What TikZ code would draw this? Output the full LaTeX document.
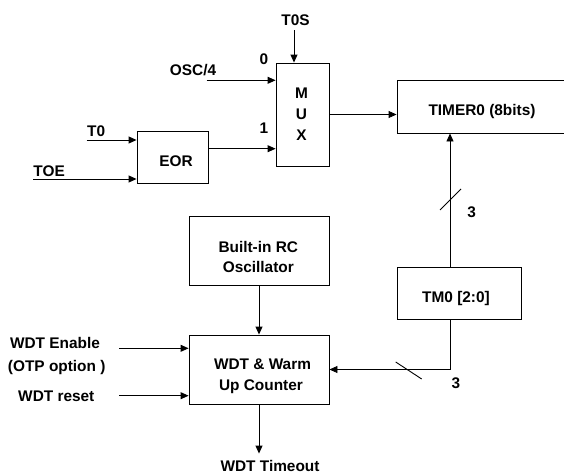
\documentclass[tikz,border=0pt]{standalone}
\usepackage{fontspec}
\setmainfont{Liberation Sans}
\usepackage{tikz}
\usetikzlibrary{positioning,arrows.meta}

\begin{document}
\begin{tikzpicture}[x=1pt,y=-1pt,line width=0.9pt,
        blk/.style={draw,inner sep=0pt},
        txt/.style={inner sep=0pt,text height=11pt,text depth=0pt,font=\fontsize{15.4}{20}\selectfont\bfseries},
        arr/.style={-{Triangle[length=8pt,width=7pt]}}]
        \useasboundingbox (0,0) rectangle (564,474);
        \clip (0,0) rectangle (564,474);
        % blocks
        \node[blk,minimum width=53pt,minimum height=103pt] (mux) at (302.5,114.5) {};
        \foreach \l [count=\i] in {M,U,X}
            \node[txt] (mux\i) at (301.5,72+21*\i) {\l};
        \node[blk,minimum width=71pt,minimum height=52pt] (eor) at (172.5,157) {};
        \node[txt] (eortxt) at (176,161) {EOR};
        \node[blk,minimum width=170pt,minimum height=53pt] (timer) at (482,106.5) {};
        \node[txt] (timertxt) at (482,110) {TIMER0 (8bits)};
        \node[blk,minimum width=124pt,minimum height=52pt] (tm) at (459,293) {};
        \node[txt] (tmtxt) at (456,297) {TM0 [2:0]};
        \node[blk,minimum width=140pt,minimum height=69pt] (rc) at (259,250.5) {};
        \node[txt] (rc1) at (258.3,246.7) {Built-in RC};
        \node[txt] (rc2) at (258.3,266.7) {Oscillator};
        \node[blk,minimum width=140pt,minimum height=69pt] (wdt) at (259,369.5) {};
        \node[txt] (wdt1) at (262.5,364) {WDT \& Warm};
        \node[txt] (wdt2) at (261,385) {Up Counter};
        % mux inputs
        \node[txt] (tos) at (295.5,20) {T0S};
        \draw[arr,shorten <=4.5pt] ([xshift=-1.5pt]tos.south) -- ([xshift=-1.5pt]tos.south |- mux.north);
        \node[txt] (sel0) at (264,58.5) {0};
        \node[txt] (sel1) at (264,128) {1};
        \node[txt] (osc) at (193,70) {OSC/4};
        \coordinate (oscin) at (206.7,80.3);
        \draw[arr] (oscin) -- (oscin -| mux.west);
        \coordinate (t0in) at (86.7,140);
        \node[txt,above right=3pt and 0pt of t0in] (t0) {T0};
        \draw[arr] (t0in) -- (t0in -| eor.west);
        \coordinate (toein) at (33,179);
        \node[txt,above right=2.5pt and 0pt of toein] (toe) {TOE};
        \draw[arr] (toein) -- (toein -| eor.west);
        \draw[arr] ([yshift=8.3pt]eor.east) -- ([yshift=8.3pt]eor.east -| mux.west);
        \draw[arr] (mux.east) -- (mux.east -| timer.west);
        % prescaler bus
        \draw[arr] ([xshift=-9pt]tm.north) -- ([xshift=-9pt]tm.north |- timer.south);
        \draw (440,210) -- (461,189);
        \node[txt] (bus1) at (471.7,211.7) {3};
        \draw[arr] ([xshift=-9pt]tm.south) |- (wdt.east);
        \draw (395.7,362) -- (421.7,379);
        \node[txt] (bus2) at (456,382.5) {3};
        % watchdog
        \draw[arr] (rc.south) -- (wdt.north);
        \node[txt] (en1) at (55,342.7) {WDT Enable};
        \node[txt] (en2) at (56.7,365.7) {(OTP option )};
        \node[txt] (rst) at (56.3,395.7) {WDT reset};
        \coordinate (enin) at (119,348.3);
        \coordinate (rstin) at (119,395.7);
        \draw[arr] (enin) -- (enin -| wdt.west);
        \draw[arr] (rstin) -- (rstin -| wdt.west);
        \node[txt] (tout) at (270,465.5) {WDT Timeout};
        \draw[arr,shorten >=6pt] (wdt.south) -- (wdt.south |- tout.north);
    \end{tikzpicture}
\end{document}
